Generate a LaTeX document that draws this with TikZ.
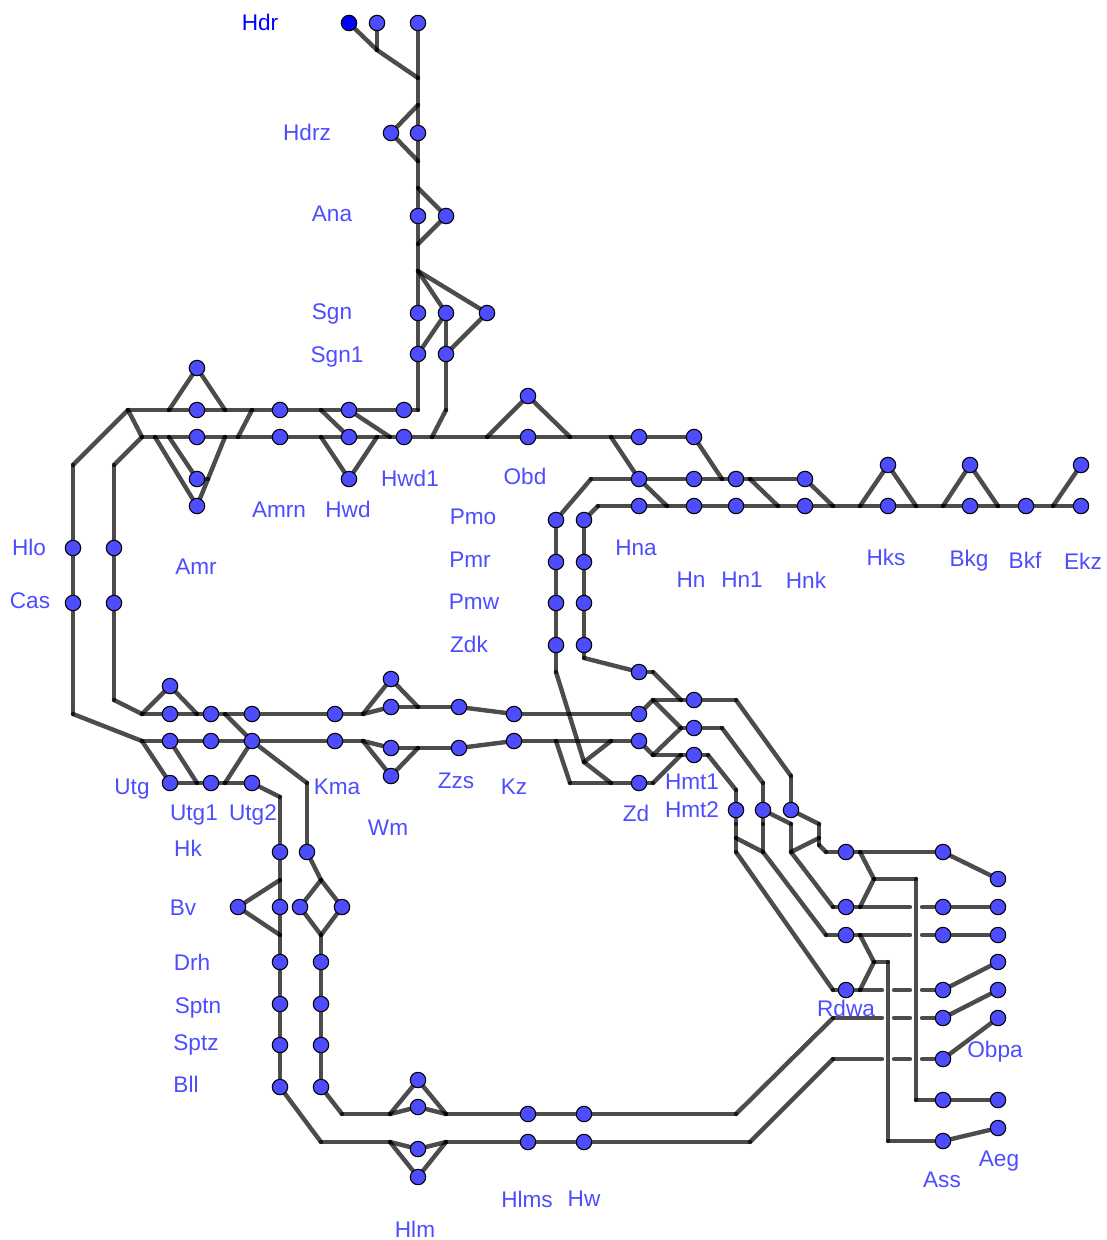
\documentclass[tikz,border=0pt]{standalone}
\usepackage{fontspec}
\setmainfont{Liberation Sans}
\usetikzlibrary{backgrounds}
\definecolor{stnblue}{HTML}{4D4DFF}
\tikzset{
    stn/.style={circle,draw=black,line width=1.1pt,fill=stnblue,minimum size=15.4pt,inner sep=0pt},
    track/.style={draw=black,draw opacity=0.7,line width=4.4pt,line cap=round},
    lbl/.style={text=stnblue,font=\fontsize{22.6pt}{24pt}\selectfont,inner sep=0pt}
}
\newcommand{\route}[1]{\foreach \cur [count=\i, remember=\cur as \prev (initially \cur)] in {#1} {\ifnum\i>1 \draw[track] (\prev) -- (\cur);\fi}}
\begin{document}
\begin{tikzpicture}[x=1pt,y=-1pt]
    \useasboundingbox (0,0) rectangle (1107,1240);
    % stations
    \foreach \n/\x/\y in {hdrb/377/23,hdrc/418/23,hdrz/391/133,hdrzb/418/133,ana/418/216,anab/446/216,
        sgn/418/313,sgnb/446/313,sgnc/487/313,sgna/418/354,sgnd/446/354,
        amra/197/368,amrb/197/410,amrc/197/437,amrd/197/479,amr/197/506,amrna/280/410,amrn/280/437,
        hwda/349/410,hwdb/349/437,hwd/349/479,hwdc/404/410,hwdd/404/437,obda/528/396,obd/528/437,
        hnaa/639/437,hnab/694/437,hna/639/479,hnb/694/479,hnc/736/479,hnd/805/479,
        hne/639/506,hn/694/506,hnone/736/506,hnk/805/506,hks/888/506,hksa/888/465,
        bkg/970/506,bkga/970/465,bkf/1026/506,ekz/1081/506,ekza/1081/465,
        pmoa/556/520,pmob/584/520,pmra/556/562,pmrb/584/562,pmwa/556/603,pmwb/584/603,zdka/556/645,zdkb/584/645,
        hlo/73/548,hlob/114/548,cas/73/603,casb/114/603,
        utga/170/686,utgb/170/714,utgoa/211/714,utgta/252/714,kmaa/335/714,wma/391/679,wmb/391/707,zzsa/459/707,kza/514/714,zda/639/714,
        utgc/170/741,utgob/211/741,utgtb/252/741,kmab/335/741,wmc/391/748,wmd/391/776,zzsb/459/748,kzb/514/741,zdb/639/741,
        utg/170/783,utgo/211/783,utgt/252/783,zd/639/783,zdc/639/672,
        hmta/694/700,hmtb/694/728,hmtc/694/755,hmtd/736/810,hmte/763/810,hmtf/791/810,
        rdwa/846/990,rdwb/846/852,rdwc/846/907,rdwd/846/935,
        assa/943/852,assb/943/907,assc/943/935,assd/943/990,asse/943/1018,assf/943/1059,assg/943/1100,ass/943/1141,
        obpb/998/879,obpc/998/907,obpd/998/935,obpe/998/962,obpf/998/990,obpa/998/1018,aega/998/1100,aeg/998/1128,
        hk/280/852,hkb/307/852,bv/238/907,bvb/280/907,bvc/300/907,bvd/342/907,drh/280/962,drhb/321/962,
        sptn/280/1004,sptnb/321/1004,sptz/280/1045,sptzb/321/1045,bll/280/1087,bllb/321/1087,
        hlma/418/1080,hlmb/418/1107,hlmc/418/1149,hlm/418/1177,hlmsa/528/1114,hlms/528/1142,hwa/584/1114,hw/584/1142}
        {\node[stn] (\n) at (\x,\y) {};}
    \node[stn,fill=blue] (hdr) at (349,23) {};
    % junctions
    \foreach \n/\x/\y in {j1/377/50,j2/418/78,j3/418/105,j4/418/161,j5/418/188,j6/418/244,j7/418/271,j8/418/410,j9/446/410,
        j10/128/410,j11/169/410,j12/225/410,j13/252/410,j14/321/410,
        j15/142/437,j16/155/437,j17/169/437,j18/225/437,j19/238/437,j20/321/437,j21/377/437,j22/390/437,j23/432/437,j24/487/437,j25/570/437,j26/611/437,
        j27/208/479,j28/73/465,j29/114/465,j30/73/714,j31/114/700,
        j32/667/506,j33/722/479,j34/591/479,j35/750/479,j36/778/506,j37/833/506,j38/598/506,j39/860/506,j40/916/506,j41/943/506,j42/998/506,j43/1053/506,
        j44/556/672,j45/584/658,j46/653/672,j47/681/700,j48/584/762,j49/611/741,j50/611/783,
        j51/653/700,j52/736/700,j53/791/776,j54/681/728,j55/722/728,j56/763/783,j57/653/755,j58/681/755,j59/708/755,j60/736/790,j61/653/783,
        j62/142/714,j63/197/714,j64/225/714,j65/363/714,j66/418/707,j67/142/741,j68/363/741,j69/418/748,j70/556/741,j71/570/783,
        j72/197/783,j73/225/783,j74/280/797,j75/307/783,
        j76/280/880,j77/280/935,j78/321/1142,j79/321/880,j80/321/935,j81/342/1114,j82/390/1114,j83/446/1114,j84/736/1114,j85/833/1018,
        j86/390/1142,j87/446/1142,j88/750/1142,j89/833/1059,
        j90/736/838,j91/736/852,j92/833/990,j93/860/990,j94/763/852,j95/826/935,j96/791/824,j97/791/852,j98/819/824,j99/819/838,j100/819/845,
        j101/833/907,j102/826/852,j103/860/852,j104/874/879,j105/916/879,j106/916/1100,j107/860/907,j108/860/935,j109/874/962,j110/888/962,j111/888/1141,
        j112/736/824,j113/763/824,
        g1/910/907,g2/922/907,g3/910/935,g4/922/935,g5/882/990,g6/894/990,g7/910/990,g8/922/990,
        g9/882/1018,g10/894/1018,g11/910/1018,g12/922/1018,g13/882/1059,g14/894/1059,g15/910/1059,g16/922/1059}
        {\coordinate (\n) at (\x,\y);}
    % labels
    \node[lbl,text=blue] (lhdr) at (260,22) {Hdr};
    \foreach \n/\x/\y/\t in {lhdrz/307/132/Hdrz,lana/332/214/Ana,lsgn/332/314/Sgn,lsgna/337/357/Sgn1,lhlo/29/547/Hlo,lcas/30/601/Cas,
        lamr/196/567/Amr,lamrn/279/510/Amrn,lhwd/348/509/Hwd,lhwda/410/478/Hwd1,lobd/525/476/Obd,
        lpmo/473/517/Pmo,lpmr/470/560/Pmr,lpmw/474/602/Pmw,lzdk/469/644/Zdk,
        lhna/636/548/Hna,lhn/691/580/Hn,lhnone/742/580/Hn1,lhnk/806/580/Hnk,lhks/886/557/Hks,lbkg/969/561/Bkg,lbkf/1025/560/Bkf,lekz/1083/561/Ekz,
        lutg/132/789/Utg,lutgo/194/815/Utg1,lutgt/253/815/Utg2,lkma/337/787/Kma,lhk/188/848/Hk,lwm/388/828/Wm,lzzs/456/781/Zzs,lkz/514/787/Kz,lzd/636/813/Zd,
        lhmta/692/782/Hmt1,lhmtb/692/810/Hmt2,lbv/183/908/Bv,ldrh/192/962/Drh,lsptn/198/1008/Sptn,lsptz/196/1045/Sptz,lbll/186/1084/Bll,
        lrdwa/846/1008/Rdwa,lobpa/995/1052/Obpa,laeg/999/1161/Aeg,lass/942/1180/Ass,lhlms/527/1199/Hlms,lhw/584/1199/Hw,lhlm/415/1229/Hlm}
        {\node[lbl] (\n) at (\x,\y) {\t};}
    % tracks
    \begin{pgfonlayer}{background}
        \route{hdr,j1,j2}
        \route{hdrb,j1}
        \route{hdrc,j2,j3,hdrzb,j4,j5,ana,j6,j7,sgn,sgna,j8}
        \route{j3,hdrz,j4}
        \route{j5,anab,j6}
        \route{j7,sgnb,sgna}
        \route{j7,sgnc,sgnd,j9,j23}
        \route{sgnb,sgnd}
        % west side
        \route{j10,j11,amrb,j12,j13,amrna,j14,hwda,hwdc,j8}
        \route{j15,j16,j17,amrc,j18,j19,amrn,j20,hwdb,j21,j22,hwdd,j23,j24,obd,j25,j26,hnaa,hnab}
        \route{j28,hlo,cas,j30}
        \route{j28,j10,j15,j29,hlob,casb,j31}
        \route{j11,amra,j12}
        \route{j16,amr,j18}
        \route{j17,amrd,j27}
        \route{j13,j19}
        \route{j14,hwdb}
        \route{hwda,j22}
        \route{j20,hwd,j21}
        \route{j24,obda,j25}
        % east side
        \route{j26,hna,j32}
        \route{hnab,j33}
        \route{j34,hna,hnb,j33,hnc,j35,hnd,j37}
        \route{j35,j36}
        \route{j38,hne,j32,hn,hnone,j36,hnk,j37,j39,hks,j40,j41,bkg,j42,bkf,j43,ekz}
        \route{j39,hksa,j40}
        \route{j41,bkga,j42}
        \route{j43,ekza}
        \route{j34,pmoa,pmra,pmwa,zdka,j44,j48,j49}
        \route{j48,j50}
        \route{j38,pmob,pmrb,pmwb,zdkb,j45,zdc,j46,j47}
        \route{zda,j51,j47,hmta,j52,j53,hmtf,j98,j99,j100,j102,rdwb,j103,assa,obpb}
        \route{j51,j54,hmtb,j55,j56,hmte,j113,j94,j95,rdwd,j108,g3}
        \route{zdb,j57,j54}
        \route{j57,j58,hmtc,j59,j60,hmtd,j112,j90,j91,j92,rdwa,j93,g5}
        \route{zd,j61,j58}
        \route{j90,j94}
        \route{hmte,j96,j97,j101,rdwc,j107,g1}
        \route{j99,j97}
        % middle rows
        \route{j31,j62,utgb,j63,utgoa,j64,utgta,kmaa,j65,wmb,j66,zzsa,kza,zda}
        \route{j62,utga,j63}
        \route{j65,wma,j66}
        \route{j30,j67,utgc,utgob,utgtb,kmab,j68,wmc,j69,zzsb,kzb,j70,j49,zdb}
        \route{j68,wmd,j69}
        \route{j70,j71,j50,zd}
        \route{j67,utg,j72,utgo,j73,utgt,j74,hk,j76,bvb,j77,drh,sptn,sptz,bll,j78}
        \route{utgc,j72}
        \route{j73,utgtb,j75,hkb,j79,bvc,j80,drhb,sptnb,sptzb,bllb,j81}
        \route{j64,utgtb}
        \route{j76,bv,j77}
        \route{j79,bvd,j80}
        % south
        \route{j81,j82,hlmb,j83,hlmsa,hwa,j84,j85,g9}
        \route{j82,hlma,j83}
        \route{j78,j86,hlmc,j87,hlms,hw,j88,j89,g13}
        \route{j86,hlm,j87}
        % crossings at the far end
        \route{j103,j104,j105,j106,assg,aega}
        \route{j104,j107}
        \route{j108,j109,j110,j111,ass,aeg}
        \route{j109,j93}
        \route{g2,assb,obpc}
        \route{g4,assc,obpd}
        \route{g6,g7}
        \route{g8,assd,obpe}
        \route{g10,g11}
        \route{g12,asse,obpf}
        \route{g14,g15}
        \route{g16,assf,obpa}
    \end{pgfonlayer}
\end{tikzpicture}
\end{document}
